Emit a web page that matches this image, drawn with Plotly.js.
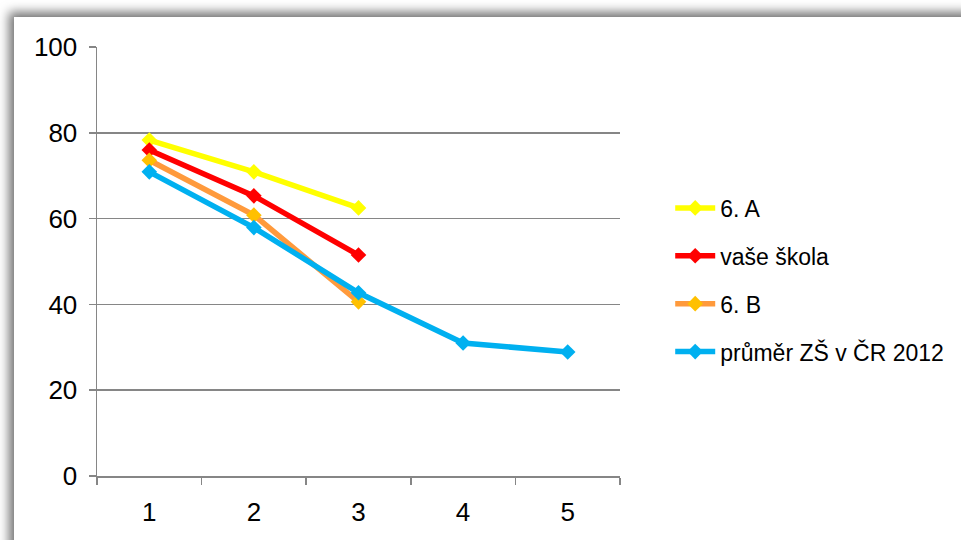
<!DOCTYPE html>
<html>
<head>
<meta charset="utf-8">
<script src="https://cdn.plot.ly/plotly-3.0.1.min.js"></script>
<style>
  html, body { margin:0; padding:0; background:#fff; width:961px; height:540px; overflow:hidden; }
  #frame { position:absolute; left:14px; top:17px; width:1000px; height:600px; background:#fff;
           box-shadow: -3px -3px 10px 2px rgba(0,0,0,0.55); }
  #chart { position:absolute; left:0; top:0; width:961px; height:540px; }
</style>
</head>
<body>
<div id="frame"></div>
<div id="chart"></div>
<script>
const categories = ['1', '2', '3', '4', '5'];
const seriesNames = ['6. A', 'vaše škola', '6. B', 'průměr ZŠ v ČR 2012'];
const valsA = [78.3, 70.9, 62.5];
const valsSkola = [76, 65.3, 51.5];
const valsB = [73.6, 60.8, 40.6];
const valsPrumer = [70.9, 57.9, 42.7, 31.0, 28.9];
const yTicks = [0, 20, 40, 60, 80, 100];

const lineColors = ['#FFFF00', '#FF0000', '#FF9A3C', '#00B0F0'];
const markerColors = ['#FFFF00', '#FF0000', '#FFC000', '#00B0F0'];
const allVals = [valsA, valsSkola, valsB, valsPrumer];

const traces = allVals.map((v, i) => ({
  x: categories.slice(0, v.length),
  y: v,
  name: seriesNames[i],
  type: 'scatter',
  mode: 'lines+markers',
  legendgroup: 'g' + i,
  line: { color: lineColors[i], width: 5.5 },
  marker: { symbol: 'diamond', size: 12, color: markerColors[i] }
}));

const tickFont = { family: 'Liberation Sans, Arial, sans-serif', size: 26, color: '#000' };
const legFont = { family: 'Liberation Sans, Arial, sans-serif', size: 23, color: '#000' };

const layout = {
  width: 961, height: 540,
  margin: { l: 97, r: 341, t: 47, b: 64 },
  paper_bgcolor: 'rgba(0,0,0,0)',
  plot_bgcolor: 'rgba(0,0,0,0)',
  font: legFont,
  showlegend: true,
  legend: {
    x: 1.096, y: 0.675, xanchor: 'left', yanchor: 'top',
    font: legFont, tracegroupgap: 15, itemwidth: 40,
    bgcolor: 'rgba(0,0,0,0)'
  },
  xaxis: {
    type: 'category',
    categoryorder: 'array', categoryarray: categories,
    range: [-0.5, 4.5],
    tickson: 'boundaries',
    ticks: 'outside', ticklen: 7, tickcolor: '#868686', tickwidth: 1.5,
    showline: true, linecolor: '#868686', linewidth: 1.5,
    showgrid: false, zeroline: false,
    tickfont: tickFont, ticklabelstandoff: 12, fixedrange: true
  },
  yaxis: {
    range: [0, 100],
    tickvals: yTicks,
    ticks: 'outside', ticklen: 7, tickcolor: '#868686', tickwidth: 1.5,
    showline: true, linecolor: '#868686', linewidth: 1.5,
    showgrid: true, gridcolor: '#868686', gridwidth: 1.5,
    zeroline: false, tickfont: tickFont, ticklabelstandoff: 6,
    fixedrange: true
  }
};

Plotly.newPlot('chart', traces, layout, { displayModeBar: false, staticPlot: true });
</script>
</body>
</html>
